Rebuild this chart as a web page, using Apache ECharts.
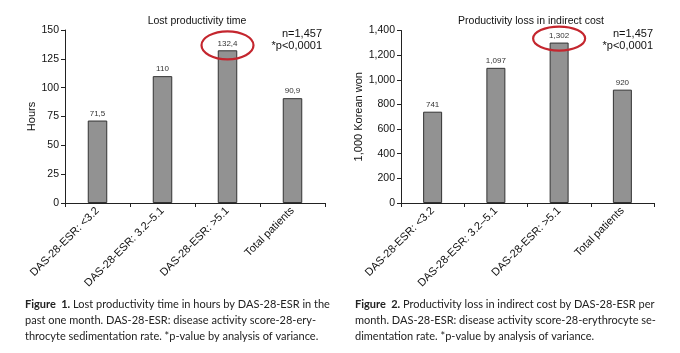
<!DOCTYPE html>
<html><head><meta charset="utf-8">
<script src="https://cdn.jsdelivr.net/npm/echarts@6/dist/echarts.min.js"></script>
<style>html,body{margin:0;padding:0;background:#fff}#c{width:680px;height:353px}</style>
</head><body><div id="c"></div>
<script>
const categories = ['DAS-28-ESR: <3.2', 'DAS-28-ESR: 3.2\u20135.1', 'DAS-28-ESR: >5.1', 'Total patients'];
const hoursValues = [71.5, 110, 132.4, 90.9];
const costValues = [741, 1097, 1302, 920];
const hoursTicks = {min: 0, max: 150, interval: 25};
const costTicks = {min: 0, max: 1400, interval: 200};
const title1 = 'Lost productivity time';
const title2 = 'Productivity loss in indirect cost';
const yName1 = 'Hours';
const yName2 = '1,000 Korean won';
const note1 = 'n=1,457';
const note2 = '*p<0,0001';
const highlightIndex = 2;
const caption1 = [
  ['Figure  1.', ' Lost productivity time in hours by DAS-28-ESR in the'],
  ['', 'past one month. DAS-28-ESR: disease activity score-28-ery-'],
  ['', 'throcyte sedimentation rate. *p-value by analysis of variance.']
];
const caption2 = [
  ['Figure  2.', ' Productivity loss in indirect cost by DAS-28-ESR per'],
  ['', 'month. DAS-28-ESR: disease activity score-28-erythrocyte se-'],
  ['', 'dimentation rate. *p-value by analysis of variance.']
];

const FONT = 'Liberation Sans, Arial, sans-serif';
const CAPFONT = 'Lato, Open Sans, sans-serif';
const chart = echarts.init(document.getElementById('c'));

function xAxis(gi) {
  return {
    type: 'category', gridIndex: gi, data: categories,
    axisLine: {lineStyle: {color: '#222', width: 1}},
    axisTick: {show: true, alignWithLabel: false, length: 4, lineStyle: {color: '#222'}},
    axisLabel: {rotate: 45, interval: 0, fontSize: 11, color: '#111', fontFamily: FONT, margin: 6}
  };
}
function yAxis(gi, t, name, fmt, nameGap) {
  return {
    type: 'value', gridIndex: gi, min: t.min, max: t.max, interval: t.interval,
    name: name, nameLocation: 'middle', nameGap: nameGap,
    nameTextStyle: {fontSize: 11, color: '#111', fontFamily: FONT},
    axisLine: {show: true, lineStyle: {color: '#222'}},
    axisTick: {show: true, length: 4, lineStyle: {color: '#222'}},
    splitLine: {show: false},
    axisLabel: {fontSize: 10.5, color: '#111', fontFamily: FONT, margin: 6, formatter: fmt}
  };
}
function barSeries(gi, vals, fmt) {
  return {
    type: 'bar', xAxisIndex: gi, yAxisIndex: gi, data: vals, barWidth: '30%',
    itemStyle: {color: '#929292', borderColor: '#333', borderWidth: 1},
    label: {show: true, position: 'top', distance: 3, fontSize: 8, color: '#333', fontFamily: FONT,
      formatter: p => fmt(p.value)}
  };
}
const fmtHours = v => String(v).replace('.', ',');
const fmtCost = v => v.toLocaleString('en-US');

function captionTexts(lines, x, y0) {
  const els = [];
  lines.forEach((ln, i) => {
    els.push({
      type: 'text', left: x, top: y0 + i * 16,
      style: {
        rich: {b: {fontWeight: 'bold', fontSize: 11, fontFamily: CAPFONT, fill: '#222'},
               n: {fontSize: 11, fontFamily: CAPFONT, fill: '#222'}},
        text: (ln[0] ? '{b|' + ln[0] + '}' : '') + '{n|' + ln[1] + '}'
      }
    });
  });
  return els;
}

function titleText(t, x) {
  return {type: 'text', x: x, y: 16, style: {text: t, fontSize: 10.5, fill: '#111', fontFamily: FONT, align: 'center'}};
}
function noteText(t, r, top) {
  return {type: 'text', right: 680 - r, top: top, style: {text: t, fontSize: 11, fill: '#111', fontFamily: FONT, align: 'right'}};
}

const option = {
  animation: false,
  textStyle: {fontFamily: FONT},
  grid: [
    {left: 65, top: 30, width: 260, height: 173},
    {left: 401, top: 30.5, width: 253, height: 172.5}
  ],
  xAxis: [xAxis(0), xAxis(1)],
  yAxis: [yAxis(0, hoursTicks, yName1, v => v, 28), yAxis(1, costTicks, yName2, v => v.toLocaleString('en-US'), 31)],
  series: [barSeries(0, hoursValues, fmtHours), barSeries(1, costValues, fmtCost)],
  graphic: [
    titleText(title1, 197), titleText(title2, 531),
    noteText(note1, 322, 28), noteText(note2, 322, 40),
    noteText(note1, 653, 28), noteText(note2, 653, 40)
  ].concat(captionTexts(caption1, 25, 299), captionTexts(caption2, 355, 299))
};
chart.setOption(option);

// highlight ellipses around the top label, positioned from the data via the axes
const p1 = chart.convertToPixel({seriesIndex: 0}, [highlightIndex, hoursValues[highlightIndex]]);
const p2 = chart.convertToPixel({seriesIndex: 1}, [highlightIndex, costValues[highlightIndex]]);
chart.setOption({graphic: option.graphic.concat([
  {type: 'ellipse', shape: {cx: p1[0], cy: p1[1] - 5, rx: 26, ry: 14}, style: {fill: 'none', stroke: '#c4262e', lineWidth: 2.2}, z: 100},
  {type: 'ellipse', shape: {cx: p2[0], cy: p2[1] - 4, rx: 26, ry: 12}, style: {fill: 'none', stroke: '#c4262e', lineWidth: 2.2}, z: 100}
])});
</script></body></html>
